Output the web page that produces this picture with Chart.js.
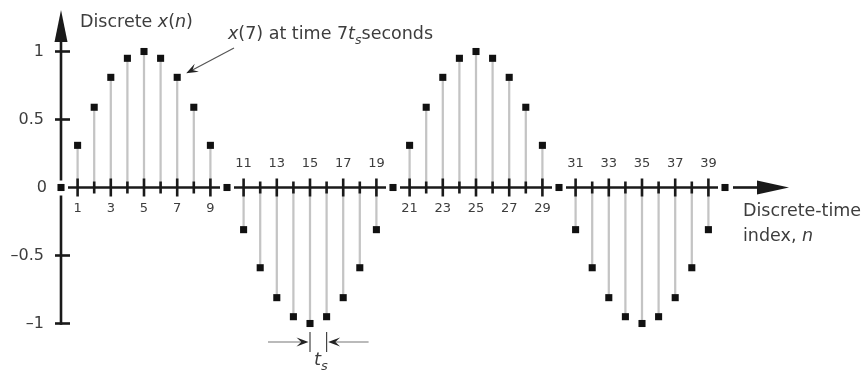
<!DOCTYPE html>
<html>
<head>
<meta charset="UTF-8">
<title>Discrete x(n)</title>
<script src="https://cdn.jsdelivr.net/npm/chart.js@4.4.1/dist/chart.umd.min.js"></script>
<style>
	body { margin: 0; background: #fff; }
	#wrap { width: 866px; height: 372px; }
</style>
</head>
<body>
<div id="wrap"><canvas id="stemChart"></canvas></div>
<script>
	// samples n and x(n)
	var sampleIndex = [0, 1, 2, 3, 4, 5, 6, 7, 8, 9, 10, 11, 12, 13, 14, 15, 16, 17, 18, 19, 20,
		21, 22, 23, 24, 25, 26, 27, 28, 29, 30, 31, 32, 33, 34, 35, 36, 37, 38, 39, 40];
	var sampleValue = [0, 0.31, 0.59, 0.81, 0.95, 1, 0.95, 0.81, 0.59, 0.31,
		0, -0.31, -0.59, -0.81, -0.95, -1, -0.95, -0.81, -0.59, -0.31,
		0, 0.31, 0.59, 0.81, 0.95, 1, 0.95, 0.81, 0.59, 0.31,
		0, -0.31, -0.59, -0.81, -0.95, -1, -0.95, -0.81, -0.59, -0.31, 0];

	var yTickValues = [1, 0.5, 0, -0.5, -1];
	var yTickLabels = ["1", "0.5", "0", "\u20130.5", "\u20131"];
	var xLabelsBelow = [1, 3, 5, 7, 9, 21, 23, 25, 27, 29];
	var xLabelsAbove = [11, 13, 15, 17, 19, 31, 33, 35, 37, 39];

	var points = sampleIndex.map(function (n, i) { return { x: n, y: sampleValue[i] }; });

	var FONT = '"DejaVu Sans", sans-serif';
	var INK = '#1a1a1a';
	var TEXT = '#3d3d3d';

	function drawRuns(ctx, runs, x, y, size) {
		ctx.textAlign = 'left';
		ctx.textBaseline = 'alphabetic';
		runs.forEach(function (r) {
			var s = r.sub ? size * 0.72 : size;
			ctx.font = (r.italic ? 'italic ' : '') + s + 'px ' + FONT;
			ctx.fillText(r.text, x, y + (r.sub ? size * 0.3 : 0));
			x += ctx.measureText(r.text).width;
		});
	}

	function line(ctx, x1, y1, x2, y2) {
		ctx.beginPath();
		ctx.moveTo(x1, y1);
		ctx.lineTo(x2, y2);
		ctx.stroke();
	}

	// solid triangle, tip at (tx,ty), pointing along angle a
	function solidHead(ctx, tx, ty, a, len, half) {
		var c = Math.cos(a), s = Math.sin(a);
		var bx = tx - c * len, by = ty - s * len;
		ctx.beginPath();
		ctx.moveTo(tx, ty);
		ctx.lineTo(bx - s * half, by + c * half);
		ctx.lineTo(bx + s * half, by - c * half);
		ctx.closePath();
		ctx.fill();
	}

	// barbed head with a notch
	function barbHead(ctx, tx, ty, a, len, half) {
		var c = Math.cos(a), s = Math.sin(a);
		var bx = tx - c * len, by = ty - s * len;
		var nx = tx - c * len * 0.6, ny = ty - s * len * 0.6;
		ctx.beginPath();
		ctx.moveTo(tx, ty);
		ctx.lineTo(bx - s * half, by + c * half);
		ctx.lineTo(nx, ny);
		ctx.lineTo(bx + s * half, by - c * half);
		ctx.closePath();
		ctx.fill();
	}

	var drawFigure = {
		id: 'drawFigure',
		// axes go on top of the stems, under the square markers
		beforeDatasetDraw: function (chart, args) {
			if (args.index !== 1) return;
			var ctx = chart.ctx, xs = chart.scales.x, ys = chart.scales.y;
			var x0 = xs.getPixelForValue(0), y0 = ys.getPixelForValue(0);
			ctx.save();
			ctx.strokeStyle = INK;
			ctx.fillStyle = INK;
			ctx.lineWidth = 2.6;

			// horizontal axis, broken round the zero-valued samples
			var zeros = sampleIndex.filter(function (n, i) { return sampleValue[i] === 0; });
			for (var k = 0; k < zeros.length - 1; k++) {
				line(ctx, xs.getPixelForValue(zeros[k]) + 7, y0, xs.getPixelForValue(zeros[k + 1]) - 7, y0);
			}
			var last = xs.getPixelForValue(zeros[zeros.length - 1]);
			line(ctx, last + 8, y0, 760, y0);
			solidHead(ctx, 789, y0, 0, 32, 7);

			// vertical axis
			line(ctx, x0, 40, x0, y0 - 7);
			line(ctx, x0, y0 + 8, x0, ys.getPixelForValue(-1) + 1.3);
			solidHead(ctx, x0, 10, -Math.PI / 2, 32, 6.5);

			yTickValues.forEach(function (v) {
				if (v === 0) return;
				var py = ys.getPixelForValue(v);
				line(ctx, x0 - 6, py, x0 + 9, py);
			});
			sampleIndex.forEach(function (n, i) {
				if (sampleValue[i] === 0) return;
				var px = xs.getPixelForValue(n);
				var h = n % 2 ? 9 : 6;
				line(ctx, px, y0 - h, px, y0 + h);
			});
			ctx.restore();
		},
		afterDraw: function (chart) {
			var ctx = chart.ctx, xs = chart.scales.x, ys = chart.scales.y;
			var y0 = ys.getPixelForValue(0);
			ctx.save();
			ctx.fillStyle = TEXT;

			ctx.font = '16px ' + FONT;
			ctx.textAlign = 'right';
			ctx.textBaseline = 'middle';
			yTickValues.forEach(function (v, i) {
				ctx.fillText(yTickLabels[i], v === 0 ? 47 : 44, ys.getPixelForValue(v));
			});

			ctx.font = '13px ' + FONT;
			ctx.textAlign = 'center';
			xLabelsBelow.forEach(function (n) { ctx.fillText(String(n), xs.getPixelForValue(n), y0 + 21); });
			xLabelsAbove.forEach(function (n) { ctx.fillText(String(n), xs.getPixelForValue(n), y0 - 24); });

			drawRuns(ctx, [{ text: 'Discrete ' }, { text: 'x', italic: true }, { text: '(' },
				{ text: 'n', italic: true }, { text: ')' }], 80, 27, 17.5);
			drawRuns(ctx, [{ text: 'x', italic: true }, { text: '(7) at time 7' }, { text: 't', italic: true },
				{ text: 's', italic: true, sub: true }, { text: 'seconds' }], 228, 39, 17.5);
			drawRuns(ctx, [{ text: 'Discrete-time' }], 743, 216, 17.5);
			drawRuns(ctx, [{ text: 'index, ' }, { text: 'n', italic: true }], 743, 241, 17.5);

			// arrow pointing at x(7)
			ctx.strokeStyle = '#555';
			ctx.fillStyle = '#222';
			ctx.lineWidth = 1.2;
			var px7 = xs.getPixelForValue(7) + 9, py7 = ys.getPixelForValue(sampleValue[7]) - 4;
			var a = Math.atan2(py7 - 48, px7 - 234);
			line(ctx, 234, 48, px7 - Math.cos(a) * 6, py7 - Math.sin(a) * 6);
			barbHead(ctx, px7, py7, a, 12, 4.5);

			// sample spacing t_s between n = 15 and n = 16
			var p15 = xs.getPixelForValue(15), p16 = xs.getPixelForValue(16);
			var ym = 342;
			ctx.strokeStyle = '#444';
			line(ctx, p15, 332, p15, 352);
			line(ctx, p16, 332, p16, 352);
			ctx.strokeStyle = '#777';
			line(ctx, p15 - 42, ym, p15 - 6, ym);
			line(ctx, p16 + 42, ym, p16 + 6, ym);
			ctx.fillStyle = '#222';
			barbHead(ctx, p15 - 1.5, ym, 0, 12, 4.5);
			barbHead(ctx, p16 + 1.5, ym, Math.PI, 12, 4.5);
			ctx.fillStyle = TEXT;
			drawRuns(ctx, [{ text: 't', italic: true }, { text: 's', italic: true, sub: true }], p15 + 4, 365, 18);
			ctx.restore();
		}
	};

	var ctx = document.getElementById('stemChart').getContext('2d');
	var stemChart = new Chart(ctx, {
		type: 'scatter',
		data: {
			datasets: [
				{
					type: 'bar',
					data: points,
					backgroundColor: '#c4c4c4',
					barThickness: 1.6,
					order: 2,
					clip: false
				},
				{
					type: 'scatter',
					data: points,
					pointStyle: 'rect',
					pointRadius: 5,
					backgroundColor: '#111',
					borderWidth: 0,
					order: 1,
					clip: false
				}
			]
		},
		options: {
			responsive: true,
			maintainAspectRatio: false,
			devicePixelRatio: 1,
			animation: false,
			events: [],
			layout: { padding: { left: 61, right: 141, top: 51.5, bottom: 48.5 } },
			scales: {
				x: { type: 'linear', min: 0, max: 40, offset: false, display: false },
				y: { type: 'linear', min: -1, max: 1, display: false }
			},
			plugins: {
				legend: { display: false },
				tooltip: { enabled: false }
			}
		},
		plugins: [drawFigure]
	});
</script>
</body>
</html>
